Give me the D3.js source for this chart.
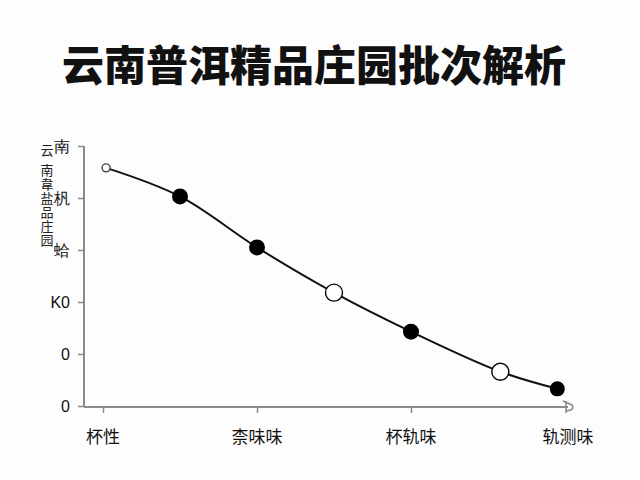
<!DOCTYPE html>
<html>
<head>
<meta charset="utf-8">
<script src="https://cdn.jsdelivr.net/npm/d3@7"></script>
<style>
  body { margin: 0; background: #fdfdfd; }
  svg { display: block; font-family: "Noto Sans CJK SC", "Noto Sans", sans-serif; }
</style>
</head>
<body>
<svg id="chart" width="640" height="480"></svg>
<script>
const title = '云南普洱精品庄园批次解析';
const yTitleTop = '云';
const yTitleRest = '南韋盐品庄园';

const xCategories = ['杯性', '柰味味', '杯轨味', '轨测味'];
const yTickValues = [0, 1, 2, 3, 4, 5];
const yTickLabels = ['0', '0', 'K0', '蛤', '杋', '南'];

// batch points: x position along the category axis, value, marker type
const pointX = [0.02, 0.5, 1, 1.5, 2, 2.58, 2.95];
const pointY = [4.58, 4.03, 3.05, 2.18, 1.43, 0.66, 0.33];
const pointKind = ['small', 'filled', 'filled', 'open', 'filled', 'open', 'filled'];

const svg = d3.select('#chart');
const axisColor = '#8a8a8a';

const x = d3.scaleLinear().domain([0, 3]).range([103, 565]);
const y = d3.scaleLinear().domain([0, 5]).range([406, 146]);

svg.append('text')
  .attr('x', 314)
  .attr('y', 81)
  .attr('text-anchor', 'middle')
  .style('font-size', '42px')
  .style('font-weight', 900)
  .attr('fill', '#111')
  .text(title);

// y axis
const yAxis = svg.append('g')
  .attr('transform', 'translate(84,0)')
  .call(d3.axisLeft(y).tickValues(yTickValues).tickSize(6).tickFormat((d, i) => yTickLabels[i]));
yAxis.select('.domain').attr('stroke', axisColor).attr('stroke-width', 2)
  .attr('d', `M0,${y(5)}V407`);
yAxis.selectAll('.tick line').attr('stroke', axisColor).attr('stroke-width', 1.5);
yAxis.selectAll('.tick text')
  .attr('x', -14)
  .attr('fill', '#111')
  .style('font-size', '16px');

// stacked vertical y title
svg.append('text')
  .attr('x', 47)
  .attr('y', 155)
  .attr('text-anchor', 'middle')
  .attr('fill', '#222')
  .style('font-size', '13px')
  .text(yTitleTop);

svg.append('text')
  .attr('x', 47)
  .attr('y', 164)
  .style('writing-mode', 'vertical-rl')
  .style('text-orientation', 'upright')
  .style('letter-spacing', '1px')
  .attr('fill', '#222')
  .style('font-size', '13px')
  .text(yTitleRest);

// x axis
const xAxis = svg.append('g')
  .attr('transform', 'translate(0,407)')
  .call(d3.axisBottom(x).tickValues([0, 1, 2]).tickSize(6).tickFormat(''));
xAxis.select('.domain').attr('stroke', axisColor).attr('stroke-width', 2)
  .attr('d', 'M84,0H568');
xAxis.selectAll('.tick line').attr('stroke', axisColor).attr('stroke-width', 1.5);

svg.append('path')
  .attr('d', 'M563,401 L572,405 Q574,408 571,410 L566,411 M566,401 V413')
  .attr('fill', 'none')
  .attr('stroke', axisColor)
  .attr('stroke-width', 1.6)
  .attr('stroke-linejoin', 'round');

svg.append('g').selectAll('text')
  .data(xCategories)
  .join('text')
  .attr('x', (d, i) => x(i) + (i === 3 ? 3 : 0))
  .attr('y', 443)
  .attr('text-anchor', 'middle')
  .attr('fill', '#111')
  .style('font-size', '17px')
  .text(d => d);

// curve
const pts = pointX.map((v, i) => [v, pointY[i]]);
svg.append('path')
  .datum(pts)
  .attr('fill', 'none')
  .attr('stroke', '#111')
  .attr('stroke-width', 2)
  .attr('d', d3.line().x(d => x(d[0])).y(d => y(d[1])).curve(d3.curveCatmullRom.alpha(0.5)));

svg.append('g').selectAll('circle')
  .data(pts)
  .join('circle')
  .attr('cx', d => x(d[0]))
  .attr('cy', d => y(d[1]))
  .attr('r', (d, i) => pointKind[i] === 'small' ? 4 : (i === 6 ? 7.5 : (pointKind[i] === 'open' ? 8.5 : 8)))
  .attr('fill', (d, i) => pointKind[i] === 'filled' ? '#000' : '#fff')
  .attr('stroke', (d, i) => pointKind[i] === 'small' ? '#444' : '#000')
  .attr('stroke-width', (d, i) => pointKind[i] === 'filled' ? 0 : 1.4);
</script>
</body>
</html>
